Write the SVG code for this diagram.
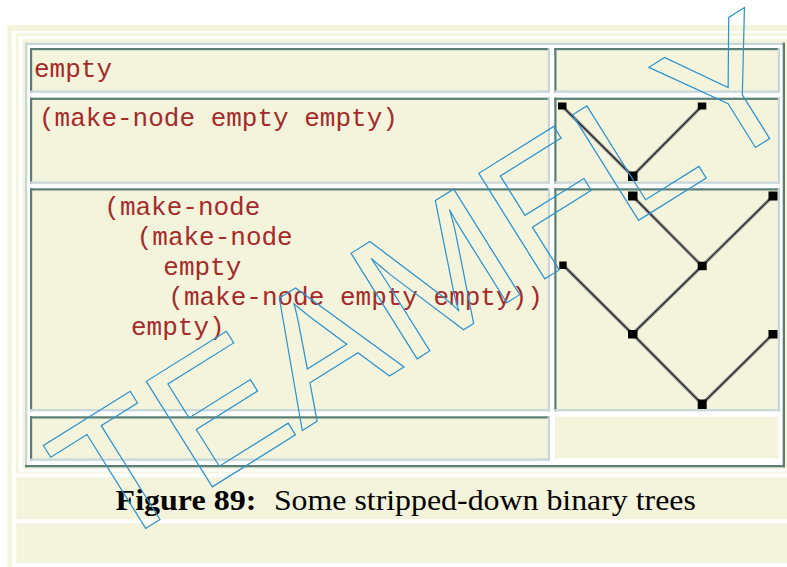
<svg xmlns="http://www.w3.org/2000/svg" width="787" height="567" viewBox="0 0 787 567">
<style>
.cream{fill:#f4f4dc}
.dk{fill:#5a7f77}
.lt{fill:#c7d6da}
.code{font-family:"Liberation Mono","Courier New",monospace;font-size:26px;fill:#a52a2a}
.cap{font-family:"Liberation Serif","Times New Roman",serif;font-size:30px;fill:#000}
.edge{stroke:#9a9a9a;stroke-width:3.4;stroke-linecap:butt;fill:none}
.core{stroke:#222;stroke-width:1.1;fill:none}
.nd{fill:#000}
.wm{font-family:"Liberation Sans",Arial,sans-serif;font-size:181px;fill:none;stroke:#2c93d1;stroke-width:1.2;font-kerning:none}
</style>
<rect width="787" height="567" fill="#fff"/>
<rect x="7.3" y="25" width="779.7" height="542" class="cream"/>
<rect x="11.7" y="31" width="775.3" height="536" fill="#fff"/>
<rect x="16" y="33.3" width="771" height="440" class="cream"/>
<rect x="18.3" y="36" width="768.7" height="435.7" fill="#fff"/>
<rect x="22.7" y="39" width="764.3" height="430.3" class="cream"/>
<g id="table">
<rect x="25" y="42.7" width="760" height="424.6" fill="#fff"/>
<rect x="25" y="42.7" width="760" height="2.3" class="lt"/>
<rect x="25" y="42.7" width="2.3" height="424.6" class="lt"/>
<rect x="25" y="465" width="760" height="2.3" class="dk"/>
<rect x="782.7" y="42.7" width="2.3" height="424.6" class="dk"/>
</g>
<g id="cell-r1-left">
<rect x="30" y="48" width="520" height="44.7" class="cream"/>
<rect x="30" y="48" width="520" height="2.2" class="dk"/>
<rect x="30" y="48" width="2.2" height="44.7" class="dk"/>
<rect x="30" y="90.5" width="520" height="2.2" class="lt"/>
<rect x="547.8" y="48" width="2.2" height="44.7" class="lt"/>
<text class="code" x="34" y="77">empty</text>
</g>
<g id="cell-r1-right">
<rect x="554.3" y="48" width="225.7" height="44.7" class="cream"/>
<rect x="554.3" y="48" width="225.7" height="2.2" class="dk"/>
<rect x="554.3" y="48" width="2.2" height="44.7" class="dk"/>
<rect x="554.3" y="90.5" width="225.7" height="2.2" class="lt"/>
<rect x="777.8" y="48" width="2.2" height="44.7" class="lt"/>
</g>
<g id="cell-r2-left">
<rect x="30" y="97.7" width="520" height="86" class="cream"/>
<rect x="30" y="97.7" width="520" height="2.2" class="dk"/>
<rect x="30" y="97.7" width="2.2" height="86" class="dk"/>
<rect x="30" y="181.5" width="520" height="2.2" class="lt"/>
<rect x="547.8" y="97.7" width="2.2" height="86" class="lt"/>
<text class="code" x="39" y="125.5">(make-node empty empty)</text>
</g>
<g id="cell-r2-right">
<rect x="554.3" y="97.7" width="225.7" height="86" class="cream"/>
<rect x="554.3" y="97.7" width="225.7" height="2.2" class="dk"/>
<rect x="554.3" y="97.7" width="2.2" height="86" class="dk"/>
<rect x="554.3" y="181.5" width="225.7" height="2.2" class="lt"/>
<rect x="777.8" y="97.7" width="2.2" height="86" class="lt"/>
</g>
<g id="cell-r3-left">
<rect x="30" y="188.3" width="520" height="223" class="cream"/>
<rect x="30" y="188.3" width="520" height="2.2" class="dk"/>
<rect x="30" y="188.3" width="2.2" height="223" class="dk"/>
<rect x="30" y="409.1" width="520" height="2.2" class="lt"/>
<rect x="547.8" y="188.3" width="2.2" height="223" class="lt"/>
<text class="code" x="104.3" y="215">(make-node</text>
<text class="code" x="136.7" y="245">(make-node</text>
<text class="code" x="163.3" y="274.5">empty</text>
<text class="code" x="168.3" y="305">(make-node empty empty))</text>
<text class="code" x="131" y="335">empty)</text>
</g>
<g id="cell-r3-right">
<rect x="554.3" y="188.3" width="225.7" height="223" class="cream"/>
<rect x="554.3" y="188.3" width="225.7" height="2.2" class="dk"/>
<rect x="554.3" y="188.3" width="2.2" height="223" class="dk"/>
<rect x="554.3" y="409.1" width="225.7" height="2.2" class="lt"/>
<rect x="777.8" y="188.3" width="2.2" height="223" class="lt"/>
</g>
<g id="cell-r4-left">
<rect x="30" y="416.3" width="520" height="44.4" class="cream"/>
<rect x="30" y="416.3" width="520" height="2.2" class="dk"/>
<rect x="30" y="416.3" width="2.2" height="44.4" class="dk"/>
<rect x="30" y="458.5" width="520" height="2.2" class="lt"/>
<rect x="547.8" y="416.3" width="2.2" height="44.4" class="lt"/>
</g>
<g id="cell-r4-right">
<rect x="555" y="416.7" width="223.7" height="41.6" class="cream"/>
</g>
<g id="connectors">
<path class="edge" d="M562 106L632.5 176M702 106L632.5 176M632.5 196L702 266M773 196L702 266M702 266L632.5 334M563 265L632.5 334M632.5 334L702 404M773 334L702 404"/>
<path class="core" d="M562 106L632.5 176M702 106L632.5 176M632.5 196L702 266M773 196L702 266M702 266L632.5 334M563 265L632.5 334M632.5 334L702 404M773 334L702 404"/>
</g>
<g id="tree1-leaf-left"><rect class="nd" x="558" y="102.5" width="8.5" height="7"/></g>
<g id="tree1-leaf-right"><rect class="nd" x="697.8" y="102.5" width="8.5" height="7"/></g>
<g id="tree1-root"><rect class="nd" x="628" y="171.5" width="9.5" height="9.5"/></g>
<g id="tree2-a"><rect class="nd" x="628" y="191.5" width="9.5" height="9"/></g>
<g id="tree2-b"><rect class="nd" x="768.5" y="191.5" width="9" height="9"/></g>
<g id="tree2-c"><rect class="nd" x="697.7" y="261.7" width="9" height="8.5"/></g>
<g id="tree2-d"><rect class="nd" x="559.3" y="261.5" width="7.4" height="7.5"/></g>
<g id="tree2-e"><rect class="nd" x="628" y="330" width="9.5" height="8.5"/></g>
<g id="tree2-f"><rect class="nd" x="768.5" y="330" width="9" height="8.5"/></g>
<g id="tree2-g"><rect class="nd" x="697.7" y="399.5" width="9" height="9.5"/></g>
<g id="caption">
<rect x="16.3" y="477.3" width="770.7" height="42" class="cream"/>
<rect x="16.3" y="523.3" width="770.7" height="39.4" class="cream"/>
<text class="cap" x="115.6" y="509.5" font-weight="bold" textLength="140.7" lengthAdjust="spacingAndGlyphs">Figure 89:</text>
<text class="cap" x="273.9" y="509.5" textLength="422" lengthAdjust="spacingAndGlyphs">Some stripped-down binary trees</text>
</g>
<g id="watermark">
<text class="wm" x="105.9" y="553.3" transform="rotate(-32 105.9 553.3)">TEAMFLY</text>
</g>
</svg>
